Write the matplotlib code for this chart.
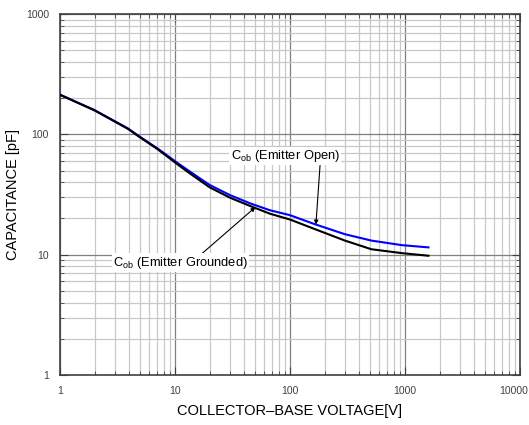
import matplotlib.pyplot as plt
from matplotlib.ticker import LogLocator, FixedLocator, NullFormatter
from matplotlib.transforms import ScaledTranslation

plt.rcParams['font.family'] = ['Liberation Sans', 'DejaVu Sans']

# values
voltage = [1, 2, 3.9, 4.8, 7.1, 10.6, 13.5, 20, 30, 45, 67, 100, 165, 300, 510, 940, 1600]
cob_open = [214, 159, 112, 97.5, 76, 57.5, 49, 38, 31.3, 26.7, 23.4, 21.3, 17.9, 14.8, 13.1, 12.0, 11.5]
cob_grounded = [213, 158, 111, 96.5, 75, 56, 47.3, 36.3, 29.8, 25.4, 21.9, 19.6, 16.3, 13.1, 11.1, 10.3, 9.8]

x_ticks = [1, 10, 100, 1000, 10000]
y_ticks = [1, 10, 100, 1000]

fig = plt.figure(figsize=(5.29, 4.25), dpi=100)
ax = fig.add_axes([0.1134, 0.1176, 0.8696, 0.8494])

ax.set_xscale('log')
ax.set_yscale('log')
ax.set_xlim(1, 10000)
ax.set_ylim(1, 1000)

ax.plot(voltage, cob_open, color='#0000ff', lw=1.5, zorder=3)
ax.plot(voltage, cob_grounded, color='black', lw=1.5, zorder=4)

ax.xaxis.set_major_locator(FixedLocator(x_ticks))
ax.yaxis.set_major_locator(FixedLocator(y_ticks))
ax.set_xticklabels([str(v) for v in x_ticks])
ax.set_yticklabels([str(v) for v in y_ticks])
ax.xaxis.set_minor_locator(LogLocator(base=10, subs=range(2, 10)))
ax.yaxis.set_minor_locator(LogLocator(base=10, subs=range(2, 10)))
ax.xaxis.set_minor_formatter(NullFormatter())
ax.yaxis.set_minor_formatter(NullFormatter())

ax.grid(which='major', color='#808080', lw=0.9)
ax.grid(which='minor', color='#c8c8c8', lw=0.9)
ax.set_axisbelow(True)

ax.tick_params(which='both', direction='in', top=True, right=True,
               labelsize=7.5, labelcolor='#404040', color='#404040')
ax.tick_params(which='major', length=6, pad=8)
ax.tick_params(which='minor', length=3)
for s in ax.spines.values():
    s.set_color('#404040')
    s.set_linewidth(1.2)

# keep the last x label inside the figure
last = ax.get_xticklabels()[-1]
last.set_ha('right')
last.set_transform(last.get_transform() + ScaledTranslation(8 / 100, 0, fig.dpi_scale_trans))

ax.set_xlabel('COLLECTOR\u2013BASE VOLTAGE[V]', fontsize=10.5, labelpad=6)
ax.set_ylabel('CAPACITANCE [pF]', fontsize=10.5, labelpad=4)

box = dict(boxstyle='square,pad=0.1', fc='white', ec='none')
ax.annotate(r'C$_{\mathregular{ob}}$ (Emitter Open)', xy=(168, 17.8), xytext=(30.5, 66),
            fontsize=9.3, bbox=box, zorder=5, va='center',
            arrowprops=dict(arrowstyle='-|>', color='black', lw=0.8,
                            mutation_scale=6, shrinkA=0, shrinkB=0,
                            relpos=(0.82, 0.0)))
ax.annotate(r'C$_{\mathregular{ob}}$ (Emitter Grounded)', xy=(50, 24.8), xytext=(2.9, 8.6),
            fontsize=9.3, bbox=box, zorder=5, va='center',
            arrowprops=dict(arrowstyle='-|>', color='black', lw=0.8,
                            mutation_scale=6, shrinkA=0, shrinkB=0,
                            relpos=(0.65, 1.0)))

fig.savefig('out.png', dpi=100)
